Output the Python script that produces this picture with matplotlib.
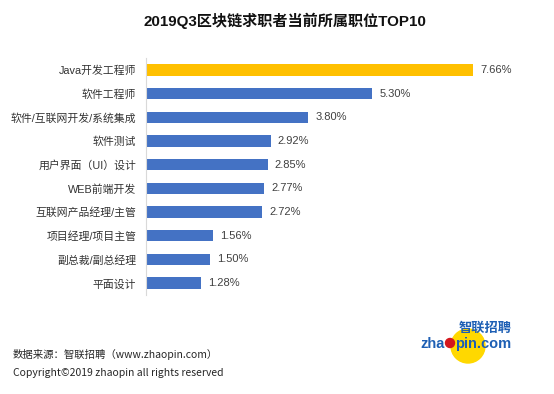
import matplotlib.pyplot as plt
from matplotlib.patches import Circle

plt.rcParams['font.family'] = ['Noto Sans CJK SC', 'DejaVu Sans']
arial_cjk = ['Liberation Sans', 'Noto Sans CJK SC']

positions = ['Java开发工程师', '软件工程师', '软件/互联网开发/系统集成', '软件测试',
             '用户界面（UI）设计', 'WEB前端开发', '互联网产品经理/主管',
             '项目经理/项目主管', '副总裁/副总经理', '平面设计']
shares = [7.66, 5.30, 3.80, 2.92, 2.85, 2.77, 2.72, 1.56, 1.50, 1.28]
highlight = 'Java开发工程师'

blue = '#4472C4'
yellow = '#FFC000'

fig = plt.figure(figsize=(5.54, 3.94), dpi=100)
ax = fig.add_axes([146/554, 1 - 295/394, 384/554, 237/394])

colors = [yellow if p == highlight else blue for p in positions]
ypos = list(range(len(positions)))
ax.barh(ypos, shares, height=0.48, color=colors)
ax.set_ylim(len(positions) - 0.5, -0.5)
ax.set_xlim(0, 9)

for y, v in zip(ypos, shares):
    ax.text(v + 0.17, y, f'{v:.2f}%', va='center', ha='left', fontsize=8,
            color='#404040', family='Liberation Sans')

ax.set_yticks(ypos)
ax.set_yticklabels(positions, fontsize=7.8, color='#333333', family=arial_cjk)
ax.tick_params(axis='y', length=0, pad=7)
ax.set_xticks([])
for s in ['top', 'right', 'bottom']:
    ax.spines[s].set_visible(False)
ax.spines['left'].set_color('#d9d9d9')

fig.text(285/554, 1 - 21/394, '2019Q3区块链求职者当前所属职位TOP10', ha='center', va='center',
         fontsize=10.9, fontweight='bold', color='#111111', family=arial_cjk)

fig.text(13/554, 1 - 354/394, '数据来源：智联招聘（www.zhaopin.com）', ha='left', va='center',
         fontsize=7.5, color='#262626')
fig.text(13/554, 1 - 373/394, 'Copyright©2019 zhaopin all rights reserved', ha='left', va='center',
         fontsize=7.5, color='#262626')

# logo
lax = fig.add_axes([0, 0, 1, 1], facecolor='none')
lax.set_xlim(0, 554)
lax.set_ylim(394, 0)
lax.axis('off')
lax.add_patch(Circle((468, 346), 17, color='#FFD800', zorder=1))
lax.text(445, 344, 'zha', ha='right', va='center', fontsize=10.5,
         fontweight='bold', color='#1d5fb4', family='Liberation Sans', zorder=2)
lax.add_patch(Circle((450, 343), 4.5, color='#d4161c', zorder=3))
lax.text(455, 344, 'pin.com', ha='left', va='center', fontsize=10.5,
         fontweight='bold', color='#1d5fb4', family='Liberation Sans', zorder=2)
lax.text(512, 328, '智联招聘', ha='right', va='center', fontsize=9.5,
         fontweight='bold', color='#1d5fb4', zorder=2)

fig.savefig('out.png', dpi=100)
